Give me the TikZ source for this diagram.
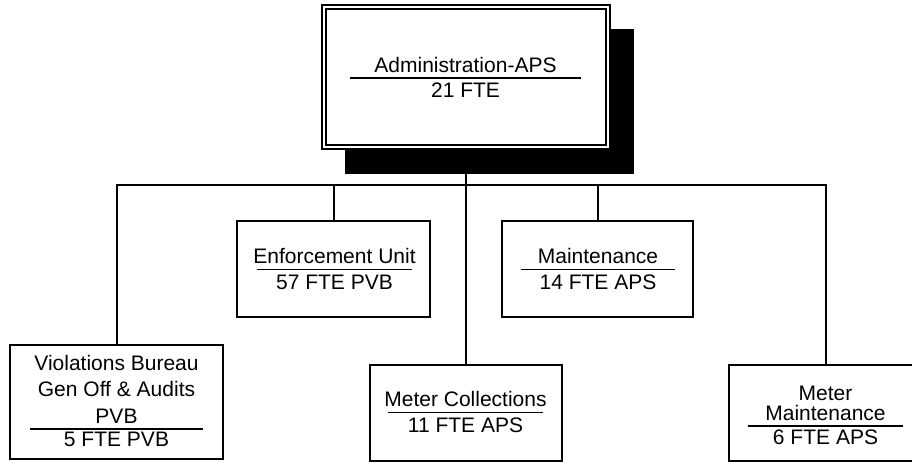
\documentclass[tikz,border=0pt]{standalone}
\usepackage{fontspec}
\setmainfont{Liberation Sans}
\begin{document}
\begin{tikzpicture}[x=0.75pt,y=-0.75pt,
  box/.style={draw,line width=1.5pt,fill=white,inner sep=0pt,rectangle},
  thinbox/.style={draw,line width=1pt,inner sep=0pt,rectangle},
  shadowbox/.style={fill=black,inner sep=0pt,rectangle},
  conn/.style={line width=1.5pt},
  rulel/.style={line width=1pt},
  txt/.style={anchor=base,inner sep=0pt,font=\fontsize{15.75}{19}\selectfont}]
\useasboundingbox (0,0) rectangle (912,462);
\clip (0,0) rectangle (912,462);

% boxes
\node[box,minimum width=144.75pt,minimum height=72pt] (eu) at (333.5,269) {};
\node[box,minimum width=143.25pt,minimum height=72pt] (mt) at (597.5,269) {};
\node[box,minimum width=159.75pt,minimum height=85.5pt] (vb) at (116.5,402) {};
\node[box,minimum width=144pt,minimum height=72pt] (mc) at (466,413) {};
\node[box,minimum width=145.5pt,minimum height=72pt] (mm) at (826,413) {};

% connectors
\coordinate (bus) at (466,185);
\draw[conn] (466,149) -- (mc.north);
\draw[conn] (vb.north) |- (mm.north |- bus) -- (mm.north);
\draw[conn] (eu.north) -- (eu.north |- bus);
\draw[conn] (mt.north) -- (mt.north |- bus);

% top box with shadow
\node[shadowbox,minimum width=216.75pt,minimum height=108.75pt] (sh) at (489.5,101.5) {};
\node[thinbox,fill=white,minimum width=216pt,minimum height=108pt] (top) at (466,77) {};
\node[thinbox,minimum width=210pt,minimum height=102pt] (topin) at (466,77) {};

% texts
\node[txt] (t0a) at (465.5,72) {Administration-APS};
\draw[rulel] (350,78) -- (581,78);
\node[txt] (t0b) at (465.5,97.5) {21 FTE};

\node[txt] (t1a) at (334.5,263.5) {Enforcement Unit};
\draw[rulel] (257,269.3) -- (412,269.3);
\node[txt] (t1b) at (334.5,289.3) {57 FTE PVB};

\node[txt] (t2a) at (598,263.5) {Maintenance};
\draw[rulel] (521,269.3) -- (675,269.3);
\node[txt] (t2b) at (598,289.3) {14 FTE APS};

\node[txt] (t3a) at (116.5,370.7) {Violations Bureau};
\node[txt] (t3b) at (116.5,396.7) {Gen Off \& Audits};
\node[txt] (t3c) at (116.5,423.3) {PVB};
\draw[rulel] (30,429) -- (203,429);
\node[txt] (t3d) at (116.5,446.7) {5 FTE PVB};

\node[txt] (t4a) at (465.5,406.7) {Meter Collections};
\draw[rulel] (388,412.7) -- (543,412.7);
\node[txt] (t4b) at (465.5,432.7) {11 FTE APS};

\node[txt] (t5a) at (825.5,400) {Meter};
\node[txt] (t5b) at (825.5,420) {Maintenance};
\draw[rulel] (748,426) -- (903,426);
\node[txt] (t5c) at (825.5,444) {6 FTE APS};
\end{tikzpicture}
\end{document}
